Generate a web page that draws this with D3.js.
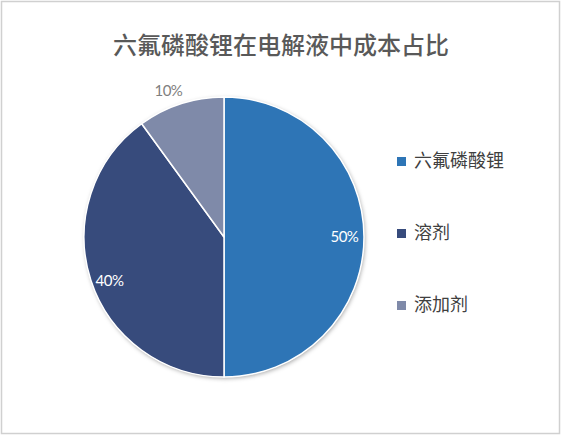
<!DOCTYPE html>
<html>
<head>
<meta charset="utf-8">
<script src="https://cdn.jsdelivr.net/npm/d3@7"></script>
<style>
  html, body { margin: 0; padding: 0; background: #fff; }
  svg { display: block; }
</style>
</head>
<body>
<div id="chart"></div>
<script>
// data
var categories = ['六氟磷酸锂', '溶剂', '添加剂'];
var shares = [50, 40, 10];
var colors = ['#2e75b6', '#374b7c', '#7f8aa9'];
var chartTitle = '六氟磷酸锂在电解液中成本占比';

var totalWidth = 562, totalHeight = 443;
var cx = 224, cy = 237, radius = 140;

var svg = d3.select('#chart').append('svg')
    .attr('width', totalWidth)
    .attr('height', totalHeight);

var defs = svg.append('defs');
var shadow = defs.append('filter').attr('id', 'pieShadow')
    .attr('x', '-10%').attr('y', '-10%').attr('width', '120%').attr('height', '120%');
shadow.append('feDropShadow')
    .attr('dx', 1).attr('dy', 1.5).attr('stdDeviation', 2)
    .attr('flood-color', '#000').attr('flood-opacity', 0.35);

// outer frame
svg.append('rect')
    .attr('x', 1.5).attr('y', 1.5)
    .attr('width', 558).attr('height', 432)
    .attr('fill', '#fff')
    .attr('stroke', '#d0d0d0')
    .attr('stroke-width', 1.5);

svg.append('text')
    .attr('x', 281).attr('y', 54)
    .attr('text-anchor', 'middle')
    .attr('font-family', '"Noto Sans CJK SC", sans-serif')
    .attr('font-size', 24)
    .attr('font-weight', 500)
    .attr('fill', '#595959')
    .text(chartTitle);

var pie = d3.pie().sort(null).value(function(d) { return d; });
var arcs = pie(shares);
var arc = d3.arc().innerRadius(0).outerRadius(radius);

var pieGroup = svg.append('g').attr('transform', 'translate(' + cx + ',' + cy + ')');

pieGroup.append('circle')
    .attr('r', radius)
    .attr('fill', '#fff')
    .attr('filter', 'url(#pieShadow)');

pieGroup.selectAll('path.slice')
    .data(arcs)
    .enter()
    .append('path')
    .attr('class', 'slice')
    .attr('d', arc)
    .attr('fill', function(d, i) { return colors[i]; })
    .attr('stroke', '#fff')
    .attr('stroke-width', 1.5)
    .attr('stroke-linejoin', 'round');

// data labels: big slices inside, the small one just outside
var insideArc = d3.arc().innerRadius(radius * 0.86).outerRadius(radius * 0.86);
var outsideArc = d3.arc().innerRadius(radius * 1.1).outerRadius(radius * 1.1);

pieGroup.selectAll('text.label')
    .data(arcs)
    .enter()
    .append('text')
    .attr('class', 'label')
    .attr('transform', function(d) {
        var p = d.data < 20 ? outsideArc.centroid(d) : insideArc.centroid(d);
        if (d.data < 20) p[0] -= 8;
        if (d.index === 1) p[1] += 7;
        return 'translate(' + p[0] + ',' + p[1] + ')';
    })
    .attr('text-anchor', 'middle')
    .attr('dy', '0.35em')
    .attr('font-family', 'Lato, "Noto Sans", sans-serif')
    .attr('font-size', 15)
    .attr('letter-spacing', -0.5)
    .attr('fill', function(d) { return d.data < 20 ? '#7f7f7f' : '#fff'; })
    .text(function(d) { return d.data + '%'; });

// legend
var legendY = d3.scalePoint().domain(categories).range([161, 305]);

var legend = svg.append('g').selectAll('g')
    .data(categories)
    .enter()
    .append('g')
    .attr('transform', function(d) { return 'translate(397,' + legendY(d) + ')'; });

legend.append('rect')
    .attr('x', 0).attr('y', -4)
    .attr('width', 9).attr('height', 9)
    .attr('fill', function(d, i) { return colors[i]; });

legend.append('text')
    .attr('x', 17).attr('y', 0)
    .attr('dy', '0.36em')
    .attr('font-family', '"Noto Sans CJK SC", sans-serif')
    .attr('font-size', 18)
    .attr('fill', '#404040')
    .text(function(d) { return d; });
</script>
</body>
</html>
